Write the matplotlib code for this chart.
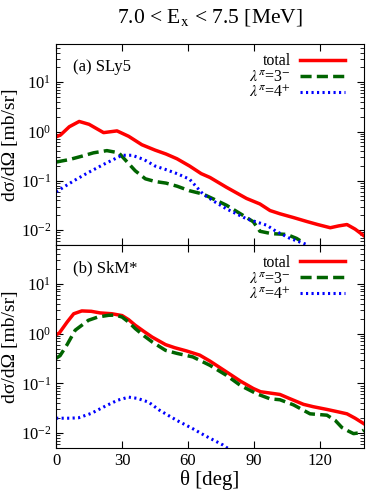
import matplotlib
matplotlib.use('Agg')
import matplotlib.pyplot as plt
import numpy as np

plt.rcParams['font.family'] = ['Liberation Serif', 'DejaVu Serif']
plt.rcParams['mathtext.fontset'] = 'stix'

# (a) SLy5
a_tot_x = [0, 2, 6, 10.5, 15, 21.6, 27.7, 33, 39, 45, 50, 55, 60.7, 66, 70, 77.5, 86.6, 92.7, 97.3, 101.8, 108, 114, 119, 124.7, 128.5, 132.3, 136, 140]
a_tot_y = [0.78, 0.85, 1.25, 1.6, 1.4, 0.95, 1.03, 0.8, 0.54, 0.42, 0.35, 0.28, 0.2, 0.14, 0.117, 0.074, 0.044, 0.034, 0.025, 0.0215, 0.018, 0.015, 0.013, 0.0112, 0.0122, 0.013, 0.0105, 0.0077]
a_3m_x = [0, 2, 6, 11.7, 17, 23.1, 28.5, 32, 36, 40.6, 45, 50, 55, 60.7, 66.8, 72, 77.5, 85, 89.7, 92.7, 98, 104.9, 109.4, 113]
a_3m_y = [0.24, 0.25, 0.27, 0.316, 0.37, 0.41, 0.37, 0.25, 0.16, 0.11, 0.097, 0.09, 0.078, 0.063, 0.054, 0.042, 0.032, 0.02, 0.0148, 0.0095, 0.0085, 0.0082, 0.0068, 0.0054]
a_4p_x = [0, 2, 8, 14.7, 22, 30, 34.6, 40, 45, 49.8, 55, 60.7, 66.8, 72, 77.5, 86.6, 95.8, 100, 106.4, 114.6]
a_4p_y = [0.06, 0.068, 0.1, 0.148, 0.22, 0.33, 0.33, 0.27, 0.2, 0.17, 0.14, 0.108, 0.054, 0.038, 0.027, 0.017, 0.0126, 0.0095, 0.0068, 0.005]

# (b) SkM*
b_tot_x = [0, 1.4, 5, 8, 11.7, 16, 20, 25.4, 30, 33, 36, 40, 43.7, 49.8, 54, 59.2, 65.3, 70, 77.5, 84, 89.7, 93, 97.3, 101.8, 106, 112.5, 117, 123.2, 128, 132.3, 136, 140]
b_tot_y = [0.95, 1.02, 1.7, 2.5, 2.85, 2.8, 2.6, 2.5, 2.3, 1.9, 1.47, 1.1, 0.85, 0.6, 0.52, 0.45, 0.37, 0.28, 0.17, 0.11, 0.079, 0.068, 0.064, 0.06, 0.05, 0.038, 0.034, 0.03, 0.027, 0.0245, 0.02, 0.0155]
b_3m_x = [0, 1.8, 5, 8.7, 14.7, 19, 23.9, 27, 30, 33, 36, 40, 43.7, 49.8, 55, 62.2, 70, 77.5, 84, 91.2, 97.3, 101.8, 108, 115.5, 123.2, 127, 130, 133, 135.3, 138, 140]
b_3m_y = [0.32, 0.36, 0.6, 1.17, 1.85, 2.15, 2.33, 2.35, 2.15, 1.7, 1.26, 0.9, 0.68, 0.46, 0.4, 0.34, 0.23, 0.145, 0.09, 0.062, 0.049, 0.047, 0.037, 0.0245, 0.023, 0.018, 0.013, 0.011, 0.0098, 0.0102, 0.0115]
b_4p_x = [0, 1.8, 6, 10.2, 16, 22.4, 28, 33, 37, 42.1, 47, 49.8, 55, 62.2, 68, 75.9, 78]
b_4p_y = [0.02, 0.02, 0.02, 0.0204, 0.025, 0.035, 0.046, 0.053, 0.05, 0.042, 0.029, 0.0245, 0.018, 0.0123, 0.0088, 0.0058, 0.005]

labels = ['total', r'$\lambda^{\pi}$=3$^{-}$', r'$\lambda^{\pi}$=4$^{+}$']
panels = ['(a) SLy5', '(b) SkM*']
xticks = [0, 30, 60, 90, 120]

fig = plt.figure(figsize=(3.74, 4.98), dpi=100)
ax1 = fig.add_axes([0.150, 0.508, 0.823, 0.404])
ax2 = fig.add_axes([0.150, 0.100, 0.823, 0.408])

data = [(a_tot_x, a_tot_y, a_3m_x, a_3m_y, a_4p_x, a_4p_y),
        (b_tot_x, b_tot_y, b_3m_x, b_3m_y, b_4p_x, b_4p_y)]

for ax, d, name in zip([ax1, ax2], data, panels):
    ax.plot(d[0], d[1], color='red', lw=2.5, ls='-', label=labels[0])
    ax.plot(d[2], d[3], color='#006400', lw=2.5, ls=(0, (3.2, 1.5)), label=labels[1])
    ax.plot(d[4], d[5], color='blue', lw=2.2, ls=(0, (0.7, 1.1)), label=labels[2])
    ax.set_yscale('log')
    ax.set_xlim(0, 140)
    ax.set_ylim(0.005, 60)
    ax.set_xticks(xticks)
    ax.tick_params(which='both', direction='in', top=True, right=True, labelsize=12)
    ax.tick_params(which='major', length=5)
    ax.tick_params(which='minor', length=3)
    ax.set_ylabel('dσ/dΩ [mb/sr]', fontsize=14, labelpad=1)
    ax.text(0.055, 0.925, name, transform=ax.transAxes, fontsize=12, va='top', ha='left')
    ax.legend(loc='upper right', markerfirst=False, frameon=False, fontsize=11.5,
              handlelength=2.8, labelspacing=0.0, borderaxespad=0.2, handletextpad=0.6,
              bbox_to_anchor=(0.97, 1.0))

ax1.tick_params(labelbottom=False)
ax2.set_xlabel('θ [deg]', fontsize=15, labelpad=1)
fig.text(0.56, 0.964, r'7.0 < E$_{\mathrm{x}}$ < 7.5 [MeV]', ha='center', va='center', fontsize=15.5)

plt.savefig('out.png')
plt.close()
